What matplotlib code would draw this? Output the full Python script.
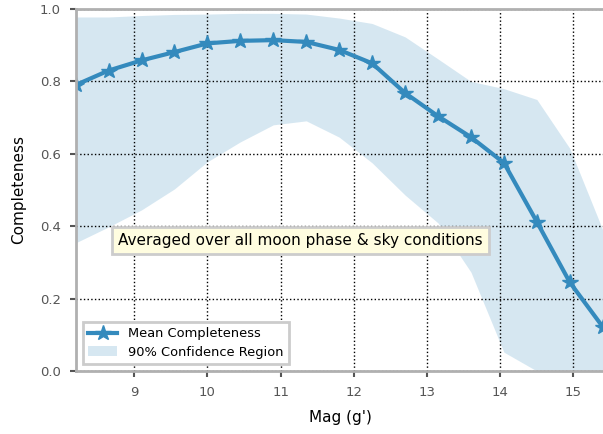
import numpy as np
import matplotlib
matplotlib.use('Agg')
import matplotlib.pyplot as plt

mag = [8.2, 8.65, 9.1, 9.55, 10.0, 10.45, 10.9, 11.35, 11.8,
       12.25, 12.7, 13.15, 13.6, 14.05, 14.5, 14.95, 15.4]
mean_comp = [0.790, 0.830, 0.858, 0.881, 0.905, 0.912, 0.914, 0.909, 0.887,
             0.850, 0.768, 0.704, 0.646, 0.575, 0.412, 0.245, 0.122]
upper = [0.978, 0.978, 0.982, 0.985, 0.986, 0.988, 0.988, 0.986, 0.975,
         0.960, 0.923, 0.862, 0.800, 0.780, 0.750, 0.615, 0.390]
lower = [0.354, 0.398, 0.445, 0.503, 0.578, 0.633, 0.680, 0.691, 0.646,
         0.575, 0.486, 0.409, 0.273, 0.052, 0.0, 0.0, 0.0]

blue = '#348ABD'

fig = plt.figure(figsize=(6.03, 4.34), dpi=100)
ax = fig.add_axes([76 / 603, 1 - 371 / 434, 1 - 76 / 603 + 0.002, 362 / 434])

ax.fill_between(mag, lower, upper, color=blue, alpha=0.2, lw=0,
                label='90% Confidence Region')
ax.plot(mag, mean_comp, '-*', color=blue, lw=3, ms=11.5,
        label='Mean Completeness')

ax.set_xlim(8.205, 15.42)
ax.set_ylim(0, 1)
ax.set_xticks([9, 10, 11, 12, 13, 14, 15])
ax.set_yticks([0.0, 0.2, 0.4, 0.6, 0.8, 1.0])
ax.grid(True, color='black', linestyle=':', linewidth=1)

for side in ['left', 'bottom', 'top', 'right']:
    ax.spines[side].set_color('#b0b0b0')
    ax.spines[side].set_linewidth(2)
ax.tick_params(axis='both', direction='out', length=4, width=1.5,
               color='#555555', labelcolor='#555555', labelsize=9.5, pad=7)
ax.tick_params(top=False, right=False)

ax.set_xlabel("Mag (g')", fontsize=11, labelpad=8)
ax.set_ylabel('Completeness', fontsize=11, labelpad=10)

ax.text(11.27, 0.36, 'Averaged over all moon phase & sky conditions',
        ha='center', va='center', fontsize=11,
        bbox=dict(boxstyle='square,pad=0.4', facecolor='#fffde0',
                  edgecolor='#cccccc', linewidth=2))

handles, labels = ax.get_legend_handles_labels()
leg = ax.legend(handles[::-1], labels[::-1], loc='lower left', fontsize=9.4,
                fancybox=False, framealpha=1, borderpad=0.45,
                handlelength=2.2, labelspacing=0.4)
leg.get_frame().set_edgecolor('#cccccc')
leg.get_frame().set_linewidth(2)

fig.savefig('out.png', dpi=100)
